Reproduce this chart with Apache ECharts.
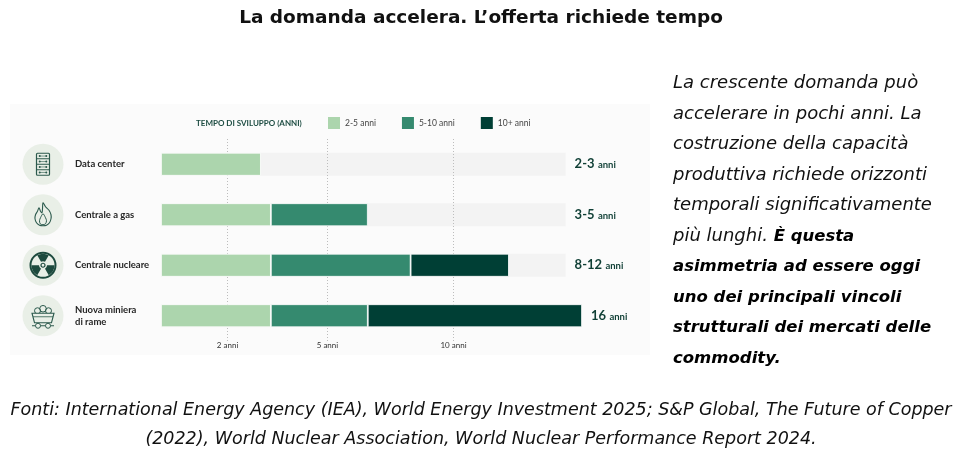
<!DOCTYPE html>
<html>
<head>
<meta charset="utf-8">
<script src="https://cdn.jsdelivr.net/npm/echarts@6/dist/echarts.min.js"></script>
<style>
    html, body { margin: 0; padding: 0; background: #fff; }
    #chart { width: 960px; height: 461px; }
</style>
</head>
<body>
<div id="chart"></div>
<script>
/* Data */
const categories = ['Data center', 'Centrale a gas', 'Centrale nucleare', 'Nuova miniera\ndi rame'];
const rangeLabels = ['2-3', '3-5', '8-12', '16'];
// where each coloured segment ends, in years
const shortEnd = [3.0, 3.3, 3.3, 3.3];
const midEnd = [null, 6.6, 8.3, 6.6];
const longEnd = [null, null, 12.2, 15.1];
const trackEnd = [14.45, 14.45, 14.45, 14.45];
const tickYears = [2, 5, 10];
const tickLabels = ['2 anni', '5 anni', '10 anni'];
const legendNames = ['2-5 anni', '5-10 anni', '10+ anni'];

/* The source axis is not linear: it runs wider up to 5 years, then squeezes */
const knee = 5, tail = 0.757;
const toAxis = (y) => (y <= knee ? y : knee + (y - knee) * tail);

const colors = ['#acd5ad', '#358a6f', '#003f35'];
const labelFont = 'Lato, sans-serif';
const textFont = "'DejaVu Sans', sans-serif";

let chartDom = document.getElementById('chart');
let myChart = echarts.init(chartDom);

const lightData = shortEnd.map(toAxis);
const midData = midEnd.map((m, i) => (m == null ? '-' : toAxis(m) - toAxis(shortEnd[i])));
const darkData = longEnd.map((l, i) => (l == null ? '-' : toAxis(l) - toAxis(midEnd[i])));
const trackData = trackEnd.map((t, i) => toAxis(Math.max(t, longEnd[i] || 0, midEnd[i] || 0)));
const xMax = toAxis(Math.max(...longEnd.filter((v) => v != null)));

const segment = (name, data, color) => ({
    name: name,
    type: 'bar',
    stack: 'tempo',
    barWidth: 23,
    barGap: '-100%',
    z: 10,
    silent: true,
    itemStyle: { color: color, borderColor: '#fff', borderWidth: 0.8 },
    data: data,
});

let option = {
    animation: false,
    grid: { left: 161, right: 960 - 582, top: 139, bottom: 461 - 341 },
    legend: {
        data: legendNames,
        left: 328,
        top: 117,
        padding: 0,
        itemWidth: 12,
        itemHeight: 12,
        itemGap: 26,
        icon: 'rect',
        itemStyle: { borderWidth: 0 },
        textStyle: { fontFamily: labelFont, fontSize: 8.5, color: '#444' },
        selectedMode: false,
    },
    xAxis: {
        type: 'value',
        min: 0,
        max: xMax,
        axisLine: { show: false },
        axisTick: { show: false },
        splitLine: { show: false },
        axisLabel: {
            customValues: tickYears.map(toAxis),
            margin: 0,
            fontFamily: labelFont,
            fontSize: 8,
            color: '#333',
            formatter: (v) => {
                let i = tickYears.findIndex((t) => Math.abs(toAxis(t) - v) < 1e-6);
                return i >= 0 ? tickLabels[i] : '';
            },
        },
    },
    yAxis: {
        type: 'category',
        data: categories,
        inverse: true,
        axisLine: { show: false },
        axisTick: { show: false },
        axisLabel: {
            align: 'left',
            margin: 86,
            fontFamily: labelFont,
            fontSize: 9.5,
            fontWeight: 'bold',
            lineHeight: 12,
            color: '#262626',
        },
    },
    series: [
        {
            name: 'track',
            type: 'bar',
            barWidth: 23,
            barGap: '-100%',
            z: 1,
            silent: true,
            itemStyle: { color: '#f3f3f3' },
            label: {
                show: true,
                position: 'right',
                distance: 9,
                formatter: (p) => '{n|' + rangeLabels[p.dataIndex] + '} {u|anni}',
                rich: {
                    n: { fontFamily: labelFont, fontSize: 13, fontWeight: 'bold', color: '#0f3f35' },
                    u: { fontFamily: labelFont, fontSize: 9.5, fontWeight: 'bold', color: '#0f3f35', padding: [2, 0, 0, 0] },
                },
            },
            markLine: {
                silent: true,
                z: 2,
                symbol: 'none',
                label: { show: false },
                lineStyle: { type: [1, 2], color: '#bdbdbd', width: 1 },
                data: tickYears.map((t) => ({ xAxis: toAxis(t) })),
            },
            data: trackData,
        },
        segment(legendNames[0], lightData, colors[0]),
        segment(legendNames[1], midData, colors[1]),
        segment(legendNames[2], darkData, colors[2]),
    ],
};

option && myChart.setOption(option);

/* Icons next to each row */
const ink = '#2c5a4d';
const line = (pts, w) => ({ type: 'polyline', shape: { points: pts }, style: { stroke: ink, lineWidth: w || 1 } });
const iconParts = [
    // server rack
    [
        { type: 'rect', shape: { x: -6.5, y: -11, width: 13, height: 22, r: 1 }, style: { fill: 'none', stroke: ink, lineWidth: 1.2 } },
        line([[-6.5, -5.5], [6.5, -5.5]]),
        line([[-6.5, 0], [6.5, 0]]),
        line([[-6.5, 5.5], [6.5, 5.5]]),
    ].concat([-8.2, -2.7, 2.7, 8.2].flatMap((yy) => [
        { type: 'circle', shape: { cx: -3.3, cy: yy, r: 1 }, style: { fill: ink } },
        { type: 'circle', shape: { cx: 3.3, cy: yy, r: 1 }, style: { fill: ink } },
        line([[-3.3, yy], [3.3, yy]], 0.6),
    ])),
    // flame
    [
        {
            type: 'polygon',
            shape: {
                smooth: 0.3,
                points: [[0, -12], [2.5, -8], [6, -4.5], [8, 0], [8, 4], [6.5, 8], [3.5, 10.5], [0, 11], [-3.5, 10.5],
                    [-6.5, 8], [-8, 4], [-7.5, 0], [-5.5, -3.5], [-4, -7], [-2.5, -3.5], [-1, -2], [-0.5, -6]],
            },
            style: { fill: 'none', stroke: ink, lineWidth: 1.1 },
        },
        {
            type: 'polygon',
            shape: { smooth: 0.3, points: [[0, 10], [-2.8, 9], [-3.5, 6], [-2.5, 3], [0, -1], [2.5, 3], [3.5, 6], [2.5, 9]] },
            style: { fill: 'none', stroke: ink, lineWidth: 1 },
        },
    ],
    // radiation
    [
        { type: 'circle', shape: { cx: 0, cy: 0, r: 12.5 }, style: { fill: 'none', stroke: '#1d4a3e', lineWidth: 2 } },
        { type: 'circle', shape: { cx: 0, cy: 0, r: 2 }, style: { fill: 'none', stroke: '#1d4a3e', lineWidth: 1.2 } },
    ].concat([-90, 30, 150].map((a) => ({
        type: 'sector',
        shape: { cx: 0, cy: 0, r0: 4, r: 11.5, startAngle: (a - 30) * Math.PI / 180, endAngle: (a + 30) * Math.PI / 180 },
        style: { fill: '#1d4a3e' },
    }))),
    // mine cart
    [
        { type: 'circle', shape: { cx: -5.5, cy: -5, r: 3 }, style: { fill: 'none', stroke: ink, lineWidth: 1 } },
        { type: 'circle', shape: { cx: 0, cy: -7, r: 3.3 }, style: { fill: 'none', stroke: ink, lineWidth: 1 } },
        { type: 'circle', shape: { cx: 5.5, cy: -5, r: 3 }, style: { fill: 'none', stroke: ink, lineWidth: 1 } },
        { type: 'polygon', shape: { points: [[-11, -2.5], [11, -2.5], [8.5, 7], [-8.5, 7]] }, style: { fill: '#e9efe7', stroke: ink, lineWidth: 1.1 } },
        line([[-10, 1], [10, 1]], 0.8),
        line([[-11, 10], [11, 10]]),
        { type: 'circle', shape: { cx: -5, cy: 10, r: 2.5 }, style: { fill: '#e9efe7', stroke: ink, lineWidth: 1 } },
        { type: 'circle', shape: { cx: 5, cy: 10, r: 2.5 }, style: { fill: '#e9efe7', stroke: ink, lineWidth: 1 } },
    ],
];

const iconGroups = categories.map((c, i) => {
    let y = myChart.convertToPixel({ yAxisIndex: 0 }, c);
    return {
        type: 'group',
        x: 43,
        y: y,
        children: [{ type: 'circle', shape: { cx: 0, cy: 0, r: 20.5 }, style: { fill: '#e9efe7' } }].concat(iconParts[i]),
    };
});

/* Texts around the chart */
const paragraph = [
    'La crescente domanda può',
    'accelerare in pochi anni. La',
    'costruzione della capacità',
    'produttiva richiede orizzonti',
    'temporali significativamente',
    'più lunghi. {b|È questa}',
    '{b|asimmetria ad essere oggi}',
    '{b|uno dei principali vincoli}',
    '{b|strutturali dei mercati delle}',
    '{b|commodity.}',
].join('\n');

const footer = [
    'Fonti: International Energy Agency (IEA), World Energy Investment 2025; S&P Global, The Future of Copper',
    '(2022), World Nuclear Association, World Nuclear Performance Report 2024.',
].join('\n');

myChart.setOption({
    graphic: [
        { type: 'rect', z: -10, shape: { x: 10, y: 104, width: 640, height: 251 }, style: { fill: '#fbfbfb' } },
        {
            type: 'text', x: 481, y: 18,
            style: { text: 'La domanda accelera. L’offerta richiede tempo', font: "bold 18.5px 'DejaVu Sans', sans-serif", fill: '#111', align: 'center', verticalAlign: 'middle' },
        },
        {
            type: 'text', x: 196, y: 123,
            style: { text: 'TEMPO DI SVILUPPO (ANNI)', font: 'bold 8px Lato, sans-serif', fill: '#1e4d43', align: 'left', verticalAlign: 'middle' },
        },
        {
            type: 'text', x: 673, y: 68,
            style: {
                text: paragraph,
                fontFamily: textFont,
                fontSize: 18,
                fontStyle: 'italic',
                lineHeight: 30.6,
                fill: '#111',
                rich: {
                    b: { fontFamily: textFont, fontSize: 16.5, fontStyle: 'italic', fontWeight: 'bold', lineHeight: 30.6, fill: '#000' },
                },
            },
        },
        {
            type: 'text', x: 481, y: 396,
            style: { text: footer, fontFamily: textFont, fontSize: 17.5, fontStyle: 'italic', lineHeight: 29, fill: '#111', align: 'center' },
        },
    ].concat(iconGroups),
});
</script>
</body>
</html>
